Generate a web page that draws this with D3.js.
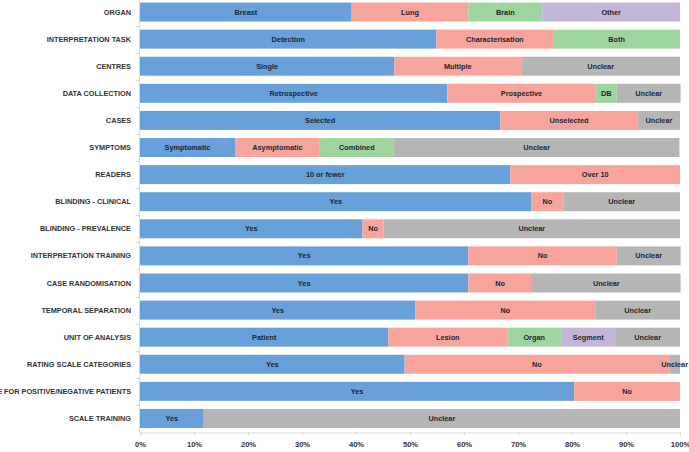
<!DOCTYPE html>
<html>
<head>
<meta charset="utf-8">
<script src="https://cdn.jsdelivr.net/npm/d3@7"></script>
<style>
  html, body { margin: 0; padding: 0; background: #fff; }
  svg { display: block; font-family: "Liberation Sans", Arial, sans-serif; }
  .cat { font-size: 7.3px; font-weight: bold; fill: #333; }
  .seg { font-size: 7.3px; font-weight: bold; fill: #1c2633; }
  .tick text { font-size: 7.6px; font-weight: bold; fill: #333; }
</style>
</head>
<body>
<svg id="chart" width="689" height="452"></svg>
<script>
// rows, top to bottom
const categories = [
  "ORGAN", "INTERPRETATION TASK", "CENTRES", "DATA COLLECTION", "CASES", "SYMPTOMS",
  "READERS", "BLINDING - CLINICAL", "BLINDING - PREVALENCE", "INTERPRETATION TRAINING",
  "CASE RANDOMISATION", "TEMPORAL SEPARATION", "UNIT OF ANALYSIS", "RATING SCALE CATEGORIES",
  "SAME SCALE FOR POSITIVE/NEGATIVE PATIENTS", "SCALE TRAINING"
];

// segment names per row
const segLabels = [
  ["Breast", "Lung", "Brain", "Other"],
  ["Detection", "Characterisation", "Both"],
  ["Single", "Multiple", "Unclear"],
  ["Retrospective", "Prospective", "DB", "Unclear"],
  ["Selected", "Unselected", "Unclear"],
  ["Symptomatic", "Asymptomatic", "Combined", "Unclear"],
  ["10 or fewer", "Over 10"],
  ["Yes", "No", "Unclear"],
  ["Yes", "No", "Unclear"],
  ["Yes", "No", "Unclear"],
  ["Yes", "No", "Unclear"],
  ["Yes", "No", "Unclear"],
  ["Patient", "Lesion", "Organ", "Segment", "Unclear"],
  ["Yes", "No", "Unclear"],
  ["Yes", "No"],
  ["Yes", "Unclear"]
];

// share of studies (%) per segment
const segValues = [
  [39.2, 21.6, 13.7, 25.5],
  [54.9, 21.6, 23.5],
  [47.1, 23.5, 29.4],
  [56.9, 27.5, 3.9, 11.8],
  [66.7, 25.5, 7.8],
  [17.6, 15.7, 13.7, 52.9],
  [68.6, 31.4],
  [72.5, 5.9, 21.6],
  [41.2, 3.9, 54.9],
  [60.8, 27.5, 11.8],
  [60.8, 11.8, 27.5],
  [51.0, 33.3, 15.7],
  [46.0, 22.0, 10.0, 10.0, 12.0],
  [49.0, 49.0, 2.0],
  [80.4, 19.6],
  [11.8, 88.2]
];

const xTicks = [0, 10, 20, 30, 40, 50, 60, 70, 80, 90, 100];

const palette = ["#68a0da", "#f6a49c", "#9ed59e", "#c3b5d8"];
const unclearColor = "#b5b5b5";

const svg = d3.select("#chart");
const x = d3.scaleLinear().domain([0, 100]).range([140, 680]);
const y = d3.scaleBand().domain(categories).range([-1.5, 432]).paddingInner(0.3).paddingOuter(0.15);

// rows -> segments with start/end
const rows = categories.map((c, i) => {
  let acc = 0;
  const segs = segValues[i].map((v, j) => {
    const s = { cat: c, label: segLabels[i][j], x0: acc, x1: acc + v, idx: j };
    acc += v;
    return s;
  });
  return segs;
});

const g = svg.append("g");
rows.forEach(segs => {
  const rg = g.append("g");
  rg.selectAll("rect").data(segs).enter().append("rect")
    .attr("x", d => x(d.x0)).attr("width", d => x(d.x1) - x(d.x0))
    .attr("y", d => y(d.cat)).attr("height", y.bandwidth())
    .attr("fill", d => d.label === "Unclear" ? unclearColor : palette[d.idx]);
  rg.selectAll("text").data(segs).enter().append("text")
    .attr("class", "seg")
    .attr("x", d => (x(d.x0) + x(d.x1)) / 2)
    .attr("y", d => y(d.cat) + y.bandwidth() / 2 + 2.6)
    .attr("text-anchor", "middle")
    .text(d => d.label);
});

// category labels
svg.append("g").selectAll("text").data(categories).enter().append("text")
  .attr("class", "cat").attr("x", 131).attr("y", d => y(d) + y.bandwidth() / 2 + 2.6)
  .attr("text-anchor", "end").text(d => d);

// axes
const axisColor = "#d9d9d9";
svg.append("line").attr("x1", 139.5).attr("x2", 139.5).attr("y1", 0).attr("y2", 432.5)
  .attr("stroke", axisColor);
const gap = y.step() - y.bandwidth();
svg.append("g").selectAll("line").data(categories.slice(1)).enter().append("line")
  .attr("x1", 136).attr("x2", 139.5)
  .attr("y1", d => Math.round(y(d) - gap / 2) + 0.5).attr("y2", d => Math.round(y(d) - gap / 2) + 0.5)
  .attr("stroke", axisColor);

const xAxis = d3.axisBottom(x).tickValues(xTicks).tickFormat(d => d + "%").tickSize(3).tickPadding(6);
const ax = svg.append("g").attr("transform", "translate(0,432.5)").call(xAxis);
ax.select(".domain").attr("stroke", axisColor);
ax.selectAll(".tick line").attr("stroke", axisColor);
ax.selectAll(".tick text").attr("font-family", null).attr("font-size", null);
</script>
</body>
</html>
